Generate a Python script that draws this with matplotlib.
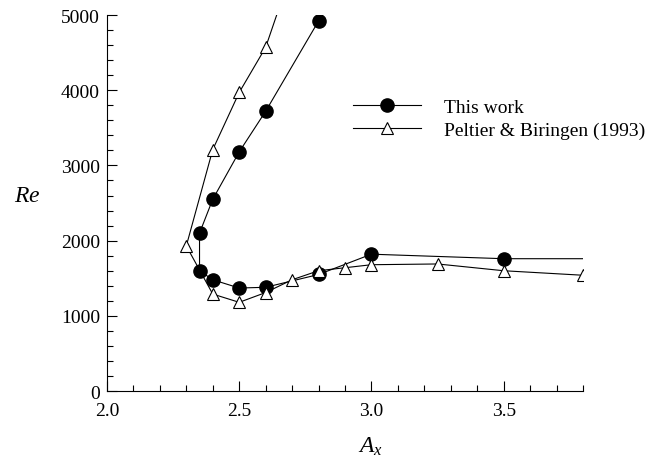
import matplotlib
matplotlib.use("Agg")
import matplotlib.pyplot as plt
from matplotlib.ticker import MultipleLocator, FormatStrFormatter

plt.rcParams['font.family'] = ['Liberation Serif', 'DejaVu Serif']
plt.rcParams['mathtext.fontset'] = 'custom'
plt.rcParams['mathtext.it'] = 'Liberation Serif:italic'
plt.rcParams['mathtext.rm'] = 'Liberation Serif'

# This work (circles); last point at 3.8 is line-only
work_x = [2.8, 2.6, 2.5, 2.4, 2.35, 2.35, 2.4, 2.5, 2.6, 2.8, 3.0, 3.5, 3.8]
work_re = [4920, 3720, 3180, 2550, 2100, 1600, 1480, 1370, 1380, 1550, 1820, 1760, 1760]

# Peltier & Biringen (1993) (triangles)
pb_x = [2.7, 2.6, 2.5, 2.4, 2.3, 2.4, 2.5, 2.6, 2.7, 2.8, 2.9, 3.0, 3.25, 3.5, 3.8]
pb_re = [5600, 4570, 3970, 3210, 1930, 1290, 1180, 1310, 1480, 1600, 1640, 1680, 1690, 1600, 1540]

fig = plt.figure(figsize=(6.64, 4.64), dpi=100)
ax = fig.add_axes([0.1611, 0.155, 0.878 - 0.1611, 0.9655 - 0.155])

ax.plot(work_x, work_re, color='black', lw=0.8, marker='o', ms=9.5,
        markerfacecolor='black', markeredgecolor='black',
        markevery=list(range(len(work_x) - 1)), label='This work', zorder=2)
ax.plot(pb_x, pb_re, color='black', lw=0.8, marker='^', ms=8,
        markerfacecolor='white', markeredgecolor='black', markeredgewidth=0.8,
        label='Peltier & Biringen (1993)', zorder=3)

ax.set_xlim(2.0, 3.8)
ax.set_ylim(0, 5000)
ax.xaxis.set_major_locator(MultipleLocator(0.5))
ax.xaxis.set_minor_locator(MultipleLocator(0.1))
ax.yaxis.set_major_locator(MultipleLocator(1000))
ax.yaxis.set_minor_locator(MultipleLocator(200))
ax.xaxis.set_major_formatter(FormatStrFormatter('%.1f'))
ax.yaxis.set_major_formatter(FormatStrFormatter('%d'))
ax.tick_params(which='both', direction='in', labelsize=14, width=0.8)
ax.tick_params(which='major', length=7)
ax.tick_params(which='minor', length=4)
ax.tick_params(axis='x', pad=8)
ax.tick_params(axis='y', pad=5)
for s in ['top', 'right']:
    ax.spines[s].set_visible(False)
for s in ['left', 'bottom']:
    ax.spines[s].set_linewidth(0.8)

fig.canvas.draw()
for lbl in ax.get_xticklabels() + ax.get_yticklabels():
    lbl.set_fontfamily('Liberation Serif')

fig.text(27 / 664, 1 - 197 / 464, '$Re$', fontsize=17, ha='center', va='center')
fig.text(370 / 664, 1 - 447 / 464, '$A_x$', fontsize=17, ha='center', va='center')

ax.legend(loc='upper left', bbox_to_anchor=(0.5, 0.8), frameon=False,
          fontsize=14, handlelength=3.5, handletextpad=1.2, labelspacing=0.3,
          borderaxespad=0)

fig.savefig('out.png', dpi=100)
